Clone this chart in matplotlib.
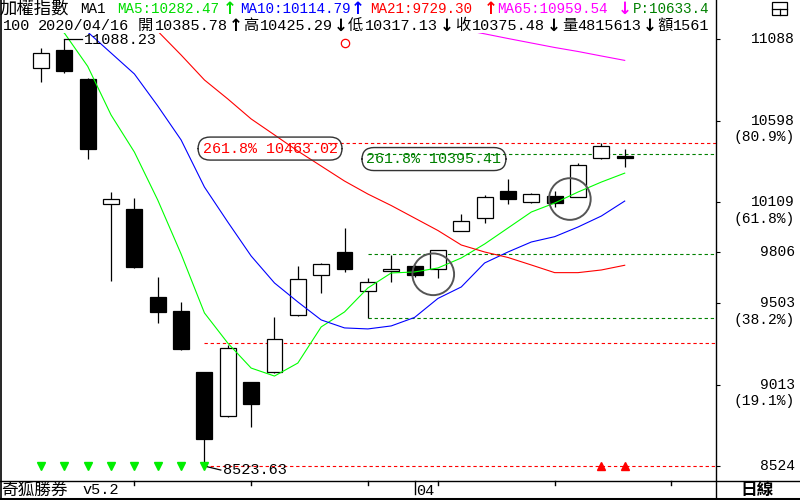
import numpy as np
import pandas as pd
import matplotlib
matplotlib.use('Agg')
import matplotlib.pyplot as plt
from matplotlib.patches import Rectangle
from matplotlib.lines import Line2D
from matplotlib.transforms import blended_transform_factory

# ---- data (TAIEX daily) ----
dates = ['2020-03-10', '2020-03-11', '2020-03-12', '2020-03-13', '2020-03-16', '2020-03-17',
         '2020-03-18', '2020-03-19', '2020-03-20', '2020-03-23', '2020-03-24', '2020-03-25',
         '2020-03-26', '2020-03-27', '2020-03-30', '2020-03-31', '2020-04-01', '2020-04-06',
         '2020-04-07', '2020-04-08', '2020-04-09', '2020-04-10', '2020-04-13', '2020-04-14',
         '2020-04-15', '2020-04-16']
opens = [10912, 11022, 10848, 10097, 10067, 9539, 9455, 9087, 8824, 9027, 9087, 9429, 9669,
         9811, 9575, 9693, 9725, 9709, 9935, 10015, 10175, 10107, 10143, 10141, 10372, 10385.78]
highs = [11032, 11088.23, 10852, 10167, 10131, 9661, 9511, 9090, 9251, 9030, 9417, 9725, 9740,
         9951, 9651, 9791, 9730, 9822, 10035, 10151, 10247, 10165, 10177, 10342, 10462, 10425.29]
lows = [10832, 10886, 10366, 9635, 9715, 9383, 9220, 8523.63, 8820, 8756, 9085, 9427, 9565,
        9691, 9411, 9631, 9660, 9655, 9933, 9985, 10095, 10105, 10081, 10139, 10370, 10317.13]
closes = [11002, 10898, 10426, 10125, 9721, 9450, 9225, 8684, 9231, 8894, 9285, 9645, 9735,
          9705, 9627, 9707, 9669, 9819, 9995, 10137, 10125, 10157, 10101, 10329, 10445, 10375.48]

nan = np.nan
ma5 = [11200, 11124, 10924, 10632, 10409, 10121, 9797, 9443, 9262, 9112, 9064, 9142, 9359,
       9449, 9593, 9683, 9689, 9713, 9773, 9857, 9953, 10049, 10103, 10169, 10229, 10282.47]
ma10 = [nan, 11300, 11130, 11004, 10878, 10686, 10482, 10199, 9989, 9785, 9623, 9509, 9401,
        9353, 9347, 9365, 9416, 9530, 9599, 9743, 9809, 9869, 9901, 9959, 10025, 10114.79]
ma21 = [nan, nan, nan, nan, 11300, 11135, 10992, 10842, 10728, 10608, 10512, 10415, 10325,
        10235, 10157, 10088, 10013, 9938, 9851, 9809, 9776, 9731, 9685, 9685, 9701, 9729.30]
ma65 = [nan] * 18 + [11146, 11119, 11091, 11064, 11037, 11013, 10986, 10959.54]

axis_levels = [11088, 10598, 10109, 9806, 9503, 9013, 8524]
axis_pcts = ['', '(80.9%)', '(61.8%)', '', '(38.2%)', '(19.1%)', '']

fib_levels = [10463.02, 10395.41, 9795, 9411, 9262, 8523.63]
fib_colors = ['#ff0000', '#008000', '#008000', '#008000', '#ff0000', '#ff0000']
fib_start = [10.7, 14, 14, 14, 7, 7]

# header pieces: text, x pixel, colour
header1 = [('MA1', 80, 'black'),
           ('MA5:10282.47', 117, '#00dd00'), ('↑', 229.5, '#00dd00'),
           ('MA10:10114.79', 240, '#0000ff'), ('↑', 358, '#0000ff'),
           ('MA21:9729.30', 370, '#ff0000'), ('↑', 490.5, '#ff0000'),
           ('MA65:10959.54', 497, '#ff00ff'), ('↓', 624.5, '#ff00ff'),
           ('P:10633.4', 633, '#008000')]
header2 = [('100', 3), ('2020/04/16', 38), ('開', 138), ('10385.78', 155), ('↑', 235.5),
           ('高', 243), ('10425.29', 260), ('↓', 340.5), ('低', 348), ('10317.13', 365),
           ('↓', 446.5), ('收', 455), ('10375.48', 472), ('↓', 553.5), ('量', 562),
           ('4815613', 577), ('↓', 650), ('額', 657), ('1561', 673)]

plt.rcParams['font.family'] = ['Liberation Mono', 'DejaVu Sans Mono', 'Noto Sans CJK TC']
CJK = ['Noto Sans CJK TC', 'DejaVu Sans']

W, H = 800, 500
fig = plt.figure(figsize=(8, 5), dpi=100)
fx = lambda px: px / W
fy = lambda py: 1 - py / H

ax = fig.add_axes([fx(1), fy(481), (716 - 1) / W, (481 - 33) / H])
ax.set_xlim(-1.713, 28.91)
ax.set_ylim(8433.8, 11124)
for s in ax.spines.values():
    s.set_visible(False)
ax.set_xticks([])
ax.yaxis.tick_right()
ax.set_yticks(axis_levels)
ax.tick_params(axis='y', length=3, width=0.8, direction='out', labelright=False, pad=0)

# candles
x = np.arange(len(dates))
bw = 0.68
for i in x:
    o, h, l, c = opens[i], highs[i], lows[i], closes[i]
    ax.vlines(i, l, h, color='black', lw=0.9, zorder=3)
    up = c >= o
    ax.add_patch(Rectangle((i - bw / 2, min(o, c)), bw, max(abs(c - o), 7),
                           facecolor='white' if up else 'black', edgecolor='black',
                           lw=0.9, zorder=4))

# support / target lines
for lv, col, st in zip(fib_levels, fib_colors, fib_start):
    ax.plot([st, 30], [lv, lv], color=col, lw=0.8, ls=(0, (3, 2.5)), zorder=2)

# moving averages
ax.plot(x, ma5, color='#00ff00', lw=0.8, zorder=5)
ax.plot(x, ma10, color='#0000ff', lw=0.8, zorder=5)
ax.plot(x, ma21, color='#ff0000', lw=0.8, zorder=5)
ax.plot(x, ma65, color='#ff00ff', lw=0.8, zorder=5)

# high / low marks
hi = int(np.argmax(highs))
lo = int(np.argmin(lows))
ax.plot([hi, hi + 0.75], [highs[hi], highs[hi]], color='black', lw=0.9, zorder=6)
ax.text(hi + 0.85, highs[hi] - 6, f'{highs[hi]:.2f}', fontsize=11, va='center', ha='left', zorder=6)
ax.plot([lo, lo + 0.7], [lows[lo], lows[lo] - 24], color='black', lw=0.9, zorder=6)
ax.text(lo + 0.8, lows[lo] - 26, f'{lows[lo]:.2f}', fontsize=11, va='center', ha='left', zorder=6)

# signal triangles
ax.plot(x[:8], [8521] * 8, ls='none', marker='v', color='#00ee00', ms=5.5, zorder=6)
ax.plot(x[-2:], [8526] * 2, ls='none', marker='^', color='#ff0000', ms=5.5, zorder=6)

# small red circle and grey pattern circles
ax.plot([13.02], [11064], ls='none', marker='o', mfc='none', mec='#ff0000', ms=6, mew=0.9, zorder=6)
ax.scatter([16.8, 22.65], [9675, 10127], s=900, facecolors='none', edgecolors='#555555',
           linewidths=1.4, zorder=7)

# target labels
box = dict(boxstyle='round,pad=0.3,rounding_size=0.8', fc='none', ec='#333333', lw=1)
ax.text(9.81, 10430, '261.8% 10463.02', color='#ff0000', fontsize=10.8, ha='center',
        va='center', zorder=8, bbox=box)
ax.text(16.83, 10367, '261.8% 10395.41', color='#008000', fontsize=10.8, ha='center',
        va='center', zorder=8, bbox=box)

# right axis labels
bt = blended_transform_factory(fig.transFigure, ax.transData)
for lv, pc in zip(axis_levels, axis_pcts):
    ax.text(fx(795), lv, str(lv), transform=bt, ha='right', va='center', fontsize=10.5)
    if pc:
        ax.annotate(pc, xy=(fx(795), lv), xycoords=bt, xytext=(0, -12),
                    textcoords='offset points', ha='right', va='center', fontsize=10.5)

# week / month ticks on the bottom line
dts = pd.to_datetime(dates)
future = pd.bdate_range(dts[-1] + pd.Timedelta(days=1), periods=4)
all_d = list(dts) + list(future)
bx = blended_transform_factory(ax.transData, fig.transFigure)
for i, d in enumerate(all_d):
    if i > 0 and d.month != all_d[i - 1].month:
        fig.add_artist(Line2D([i, i], [fy(481), fy(494)], color='black', lw=1, transform=bx))
        ax.text(i + 0.08, fy(491), f'{d.month:02d}', transform=bx, fontsize=11,
                va='center', ha='left', clip_on=False)
    elif d.dayofweek == 0:
        fig.add_artist(Line2D([i, i], [fy(481), fy(485)], color='black', lw=1, transform=bx))

# frame lines
def fline(x0, y0, x1, y1, lw=1.0):
    fig.add_artist(Line2D([fx(x0), fx(x1)], [fy(y0), fy(y1)], color='black', lw=lw))

fline(716, 0, 716, 500)
fline(0, 481, 800, 481)
fline(0.5, 0, 0.5, 500, lw=1.2)
fline(0, 498.5, 800, 498.5, lw=2.2)

# top-right icon
fig.add_artist(Rectangle((fx(772), fy(15)), 15 / W, 13 / H, fill=False, ec='black', lw=0.9))
fline(772, 9, 787, 9, lw=0.9)
fline(779.5, 9, 779.5, 15, lw=0.9)

# header
ARROW = dict(family=['DejaVu Sans'], fontweight='bold', fontsize=12, va='center', ha='center')
fig.text(fx(0), fy(9), '加權指數', fontsize=12.5, family=CJK, va='center', ha='left')
for t, px, col in header1:
    if t in '↑↓':
        fig.text(fx(px), fy(9), t, color=col, **ARROW)
    else:
        fig.text(fx(px), fy(9), t, color=col, fontsize=10.3, va='center', ha='left')
for t, px in header2:
    if t in '↑↓':
        fig.text(fx(px), fy(26), t, **ARROW)
    elif t in '開高低收量額':
        fig.text(fx(px), fy(25.5), t, fontsize=11, family=CJK, va='center', ha='left')
    else:
        fig.text(fx(px), fy(26), t, fontsize=11, va='center', ha='left')

# footer
fig.text(fx(1), fy(490), '奇狐勝券', fontsize=12, family=CJK, va='center', ha='left')
fig.text(fx(82), fy(490), 'v5.2', fontsize=11, va='center', ha='left')
fig.text(fx(757), fy(490), '日線', fontsize=12, family=CJK, fontweight='bold',
         va='center', ha='center')

fig.savefig('out.png', dpi=100, facecolor='white')
